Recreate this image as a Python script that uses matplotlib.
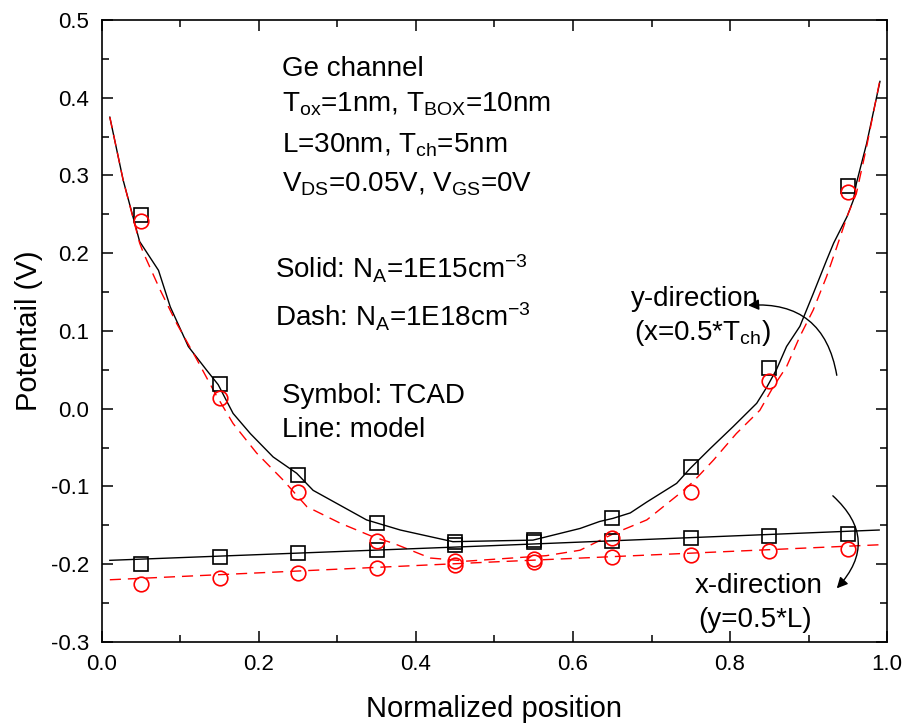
import matplotlib.pyplot as plt
import numpy as np
from matplotlib.ticker import MultipleLocator

plt.rcParams['font.family'] = ['Liberation Sans', 'DejaVu Sans']
plt.rcParams['mathtext.fontset'] = 'custom'
plt.rcParams['mathtext.rm'] = 'Liberation Sans'
plt.rcParams['mathtext.it'] = 'Liberation Sans'

# TCAD points (symbols)
x_tcad = np.array([0.05, 0.15, 0.25, 0.35, 0.45, 0.55, 0.65, 0.75, 0.85, 0.95])
ydir_tcad_15 = [0.249, 0.032, -0.085, -0.147, -0.171, -0.169, -0.141, -0.075, 0.052, 0.286]
ydir_tcad_18 = [0.241, 0.014, -0.107, -0.170, -0.196, -0.193, -0.166, -0.107, 0.036, 0.279]
xdir_tcad_15 = [-0.200, -0.191, -0.186, -0.182, -0.175, -0.172, -0.170, -0.166, -0.164, -0.161]
xdir_tcad_18 = [-0.225, -0.218, -0.211, -0.205, -0.201, -0.197, -0.191, -0.188, -0.183, -0.180]

# model curves (lines)
ydir_model_15_x = [0.010, 0.027, 0.048, 0.072, 0.087, 0.110, 0.133, 0.148, 0.167, 0.189,
                   0.218, 0.248, 0.269, 0.303, 0.337, 0.380, 0.447, 0.549, 0.609, 0.634,
                   0.651, 0.673, 0.694, 0.732, 0.749, 0.775, 0.804, 0.834, 0.847, 0.859,
                   0.872, 0.889, 0.906, 0.923, 0.932, 0.949, 0.957, 0.961, 0.974, 0.991]
ydir_model_15_y = [0.375, 0.294, 0.215, 0.178, 0.131, 0.080, 0.050, 0.031, -0.006, -0.032,
                   -0.062, -0.083, -0.105, -0.124, -0.143, -0.156, -0.171, -0.169, -0.154, -0.145,
                   -0.141, -0.134, -0.120, -0.096, -0.077, -0.051, -0.023, 0.007, 0.028, 0.050,
                   0.080, 0.106, 0.148, 0.191, 0.213, 0.247, 0.268, 0.290, 0.341, 0.421]
ydir_model_18_x = [0.010, 0.027, 0.048, 0.053, 0.074, 0.095, 0.121, 0.144, 0.167, 0.197,
                   0.231, 0.261, 0.303, 0.346, 0.371, 0.418, 0.465, 0.566, 0.609, 0.651,
                   0.694, 0.736, 0.753, 0.779, 0.808, 0.838, 0.855, 0.872, 0.889, 0.906,
                   0.923, 0.936, 0.949, 0.961, 0.974, 0.991]
ydir_model_18_y = [0.375, 0.294, 0.213, 0.200, 0.153, 0.110, 0.063, 0.020, -0.019, -0.057,
                   -0.092, -0.126, -0.147, -0.165, -0.173, -0.192, -0.196, -0.189, -0.182, -0.161,
                   -0.143, -0.109, -0.094, -0.066, -0.032, -0.002, 0.028, 0.054, 0.093, 0.127,
                   0.170, 0.208, 0.247, 0.277, 0.337, 0.423]
xdir_model_x = [0.010, 0.5, 0.99]
xdir_model_15_y = [-0.195, -0.176, -0.156]
xdir_model_18_y = [-0.220, -0.197, -0.175]

fig = plt.figure(figsize=(9.08, 7.24), dpi=100)
ax = fig.add_axes([0.1123, 0.1133, 0.8646, 0.8591])

ax.plot(ydir_model_15_x, ydir_model_15_y, color='black', lw=1.0)
ax.plot(ydir_model_18_x, ydir_model_18_y, color='red', lw=1.0, dashes=(8, 5))
ax.plot(xdir_model_x, xdir_model_15_y, color='black', lw=1.0)
ax.plot(xdir_model_x, xdir_model_18_y, color='red', lw=1.0, dashes=(8, 5))

ax.plot(x_tcad, ydir_tcad_15, 's', ms=9.5, mfc='none', mec='black', mew=1.2)
ax.plot(x_tcad, xdir_tcad_15, 's', ms=9.5, mfc='none', mec='black', mew=1.2)
ax.plot(x_tcad, ydir_tcad_18, 'o', ms=10.5, mfc='none', mec='red', mew=1.2)
ax.plot(x_tcad, xdir_tcad_18, 'o', ms=10.5, mfc='none', mec='red', mew=1.2)

ax.set_xlim(0, 1.0)
ax.set_ylim(-0.3, 0.5)
ax.xaxis.set_major_locator(MultipleLocator(0.2))
ax.xaxis.set_minor_locator(MultipleLocator(0.1))
ax.yaxis.set_major_locator(MultipleLocator(0.1))
ax.yaxis.set_minor_locator(MultipleLocator(0.05))
ax.xaxis.set_major_formatter(plt.FormatStrFormatter('%.1f'))
ax.yaxis.set_major_formatter(plt.FormatStrFormatter('%.1f'))
ax.tick_params(which='both', direction='in', top=True, right=True, width=1.1, labelsize=16)
ax.tick_params(which='major', length=8, pad=9)
ax.tick_params(which='minor', length=5)
for s in ax.spines.values():
    s.set_linewidth(1.2)

ax.set_xlabel('Normalized position', fontsize=21, labelpad=14)
ax.set_ylabel('Potentail (V)', fontsize=21, labelpad=6)

fs = 20
ax.text(0.229, 0.428, 'Ge channel', fontsize=fs)
ax.text(0.229, 0.382, r'T$_\mathregular{ox}$=1nm, T$_\mathregular{BOX}$=10nm', fontsize=fs)
ax.text(0.229, 0.330, r'L=30nm, T$_\mathregular{ch}$=5nm', fontsize=fs)
ax.text(0.229, 0.279, r'V$_\mathregular{DS}$=0.05V, V$_\mathregular{GS}$=0V', fontsize=fs)
ax.text(0.220, 0.168, r'Solid: N$_\mathregular{A}$=1E15cm$^\mathregular{-3}$', fontsize=fs)
ax.text(0.220, 0.106, r'Dash: N$_\mathregular{A}$=1E18cm$^\mathregular{-3}$', fontsize=fs)
ax.text(0.229, 0.007, 'Symbol: TCAD', fontsize=fs)
ax.text(0.229, -0.036, 'Line: model', fontsize=fs)

ax.text(0.674, 0.132, 'y-direction', fontsize=fs)
ax.text(0.678, 0.088, r'(x=0.5*T$_\mathregular{ch}$)', fontsize=fs)
ax.text(0.755, -0.237, 'x-direction', fontsize=fs)
ax.text(0.759, -0.281, '(y=0.5*L)', fontsize=fs)

arrow = dict(arrowstyle='-|>', color='black', lw=1.0, mutation_scale=16,
             shrinkA=0, shrinkB=0)
ax.annotate('', xy=(0.823, 0.133), xytext=(0.936, 0.043),
            arrowprops=dict(arrow, connectionstyle='arc3,rad=0.45'))
ax.annotate('', xy=(0.936, -0.231), xytext=(0.931, -0.112),
            arrowprops=dict(arrow, connectionstyle='arc3,rad=-0.5'))

plt.savefig('out.png', dpi=100)
